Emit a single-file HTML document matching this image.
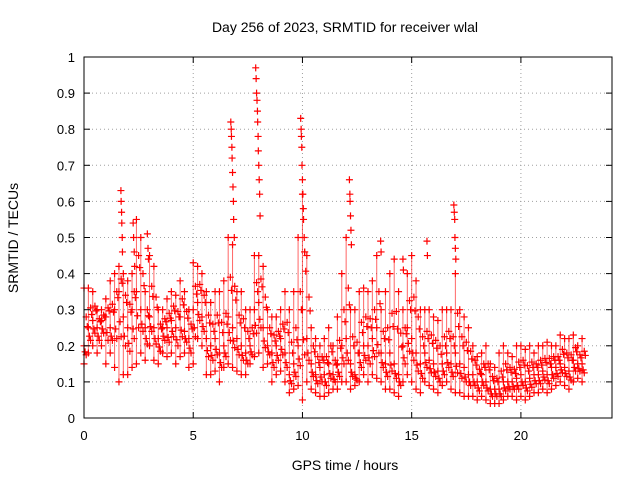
<!DOCTYPE html>
<html><head><meta charset="utf-8"><style>
html,body{margin:0;padding:0;background:#fff}
svg{display:block;font-family:"Liberation Sans",sans-serif}
</style></head><body>
<svg id="chart" width="640" height="480">
<text x="345" y="32" text-anchor="middle" font-size="14">Day 256 of 2023, SRMTID for receiver wlal</text>
<text transform="translate(18,238) rotate(-90)" text-anchor="middle" font-size="14">SRMTID / TECUs</text>
<text x="345" y="470" text-anchor="middle" font-size="14">GPS time / hours</text>
<g id="grid"></g><g id="marks"></g><g id="axes"></g>
</svg>
<script>
const xTicks=[0,5,10,15,20];
const yTicks=[0,0.1,0.2,0.3,0.4,0.5,0.6,0.7,0.8,0.9,1];
const yTickLabels=["0","0.1","0.2","0.3","0.4","0.5","0.6","0.7","0.8","0.9","1"];
const hiVals=[.36,.36,.35,.30,.30,.33,.38,.40,.42,.40,.38,.40,.55,.50,.35,.45,.42,.30,.30,.33,.35,.34,.38,.35,.30,.43,.42,.40,.35,.32,.35,.35,.38,.50,.48,.35,.35,.30,.30,.45,.45,.42,.30,.28,.28,.30,.35,.30,.35,.50,.62,.45,.25,.22,.20,.22,.25,.20,.28,.40,.50,.30,.30,.35,.36,.35,.38,.45,.30,.35,.40,.44,.35,.30,.40,.45,.38,.30,.30,.30,.28,.27,.30,.30,.30,.40,.30,.28,.25,.20,.17,.18,.20,.15,.14,.18,.20,.18,.17,.20,.20,.19,.20,.18,.20,.20,.21,.20,.20,.23,.22,.22,.23,.20,.22];
const midVals=[.20,.25,.27,.25,.27,.28,.25,.30,.35,.28,.25,.30,.35,.30,.25,.28,.25,.22,.25,.25,.27,.25,.28,.24,.22,.30,.32,.28,.22,.20,.22,.18,.20,.28,.25,.22,.20,.18,.20,.30,.32,.25,.20,.18,.20,.22,.18,.12,.15,.20,.30,.22,.15,.12,.14,.12,.15,.12,.15,.20,.22,.15,.12,.18,.20,.20,.22,.25,.18,.15,.18,.15,.12,.20,.25,.22,.18,.15,.18,.16,.15,.13,.15,.18,.15,.18,.15,.14,.12,.12,.10,.12,.10,.08,.08,.08,.10,.10,.10,.11,.12,.10,.11,.12,.12,.13,.12,.14,.14,.15,.14,.13,.16,.15,.15];
const loVals=[.15,.18,.20,.18,.20,.15,.18,.14,.10,.12,.12,.14,.15,.18,.16,.20,.16,.15,.18,.17,.18,.15,.17,.18,.14,.15,.22,.20,.12,.12,.13,.10,.14,.15,.14,.13,.12,.12,.15,.17,.18,.14,.15,.10,.12,.13,.10,.07,.08,.09,.05,.10,.08,.07,.06,.06,.07,.08,.08,.10,.10,.08,.09,.10,.12,.10,.12,.11,.10,.08,.08,.07,.06,.10,.12,.10,.08,.07,.10,.09,.08,.07,.09,.10,.08,.07,.07,.06,.06,.06,.05,.06,.05,.04,.04,.04,.05,.06,.06,.05,.06,.05,.06,.07,.07,.08,.07,.08,.09,.10,.09,.08,.10,.11,.10];
const hours=[];for(let i=0;i<hiVals.length;i++)hours.push(i*0.2);
const spikeHours=[1.69,1.70,1.72,1.73,1.75,1.76,2.25,2.27,2.3,2.32,2.9,2.93,2.95,
6.72,6.74,6.75,6.77,6.78,6.8,6.82,6.84,6.85,6.88,
7.86,7.88,7.9,7.92,7.94,7.95,7.97,7.98,8.0,8.02,8.04,8.06,
9.92,9.94,9.95,9.97,9.98,10.0,10.02,10.04,10.05,10.08,10.1,
12.15,12.17,12.18,12.2,12.22,12.24,13.58,13.6,14.6,14.62,15.7,15.72,
16.93,16.95,16.97,16.98,17.0,17.02];
const spikeVals=[.63,.6,.57,.54,.5,.46,.54,.5,.46,.42,.51,.47,.44,
.82,.8,.78,.75,.72,.68,.64,.6,.55,.5,
.97,.94,.9,.88,.85,.82,.78,.74,.7,.66,.62,.56,
.83,.8,.78,.75,.7,.66,.62,.58,.55,.5,.46,
.66,.62,.6,.56,.52,.48,.49,.46,.44,.41,.49,.45,
.59,.57,.55,.5,.47,.44];
const X0=84,X1=612,Y0=418,Y1=57,XMAX=24.17;
const xs=h=>X0+h/XMAX*(X1-X0);
const ys=v=>Y0-v*(Y0-Y1);
const NS="http://www.w3.org/2000/svg";
function mk(tag,attrs,parent){const e=document.createElementNS(NS,tag);for(const k in attrs)e.setAttribute(k,attrs[k]);parent.appendChild(e);return e;}
const grid=document.getElementById('grid'),marks=document.getElementById('marks'),axes=document.getElementById('axes');
yTicks.forEach((v,i)=>{
 const y=ys(v);
 if(v>0&&v<1){const g=mk('line',{x1:X0,x2:X1,y1:y,y2:y,stroke:'#a0a0a0','stroke-dasharray':'1,3'},grid);
 
 }
 mk('line',{x1:X0,x2:X0+6,y1:y,y2:y,stroke:'#000'},axes);
 mk('line',{x1:X1,x2:X1-6,y1:y,y2:y,stroke:'#000'},axes);
 const t=mk('text',{x:X0-9,y:y+5,'text-anchor':'end','font-size':13},axes);t.textContent=yTickLabels[i];
 
 
});
xTicks.forEach(h=>{
 const x=xs(h);
 if(h>0){const g=mk('line',{x1:x,x2:x,y1:Y0,y2:Y1,stroke:'#a0a0a0','stroke-dasharray':'1,3'},grid);
 
 }
 mk('line',{x1:x,x2:x,y1:Y0,y2:Y0-6,stroke:'#000'},axes);
 mk('line',{x1:x,x2:x,y1:Y1,y2:Y1+6,stroke:'#000'},axes);
 const t=mk('text',{x:x,y:Y0+22,'text-anchor':'middle','font-size':13},axes);t.textContent=String(h);
 
 
});
const frame=mk('rect',{x:X0,y:Y1,width:X1-X0,height:Y0-Y1,fill:'none',stroke:'#000'},axes);


function cross(h,v){
 const x=xs(h),y=ys(v);
 const p=mk('path',{d:`M${x-3.5},${y}H${x+3.5}M${x},${y-3.5}V${y+3.5}`,stroke:'#f00','stroke-width':1.2},marks);
 
 
}
hours.forEach((h,i)=>{
 const s=mk('line',{x1:xs(h),x2:xs(h),y1:ys(loVals[i]),y2:ys(hiVals[i]),stroke:'#f00','stroke-width':1,opacity:0.6},marks);
 
 
 cross(h,hiVals[i]);cross(h,midVals[i]);cross(h,loVals[i]);
 cross(h+0.1,(midVals[i]+hiVals[i])/2);cross(h+0.1,(midVals[i]+loVals[i])/2);
 cross(h+0.05,(midVals[i]*2+loVals[i])/3);cross(h+0.15,(midVals[i]*2+hiVals[i])/3);
});
spikeHours.forEach((h,i)=>cross(h,spikeVals[i]));
</script>
</body></html>
